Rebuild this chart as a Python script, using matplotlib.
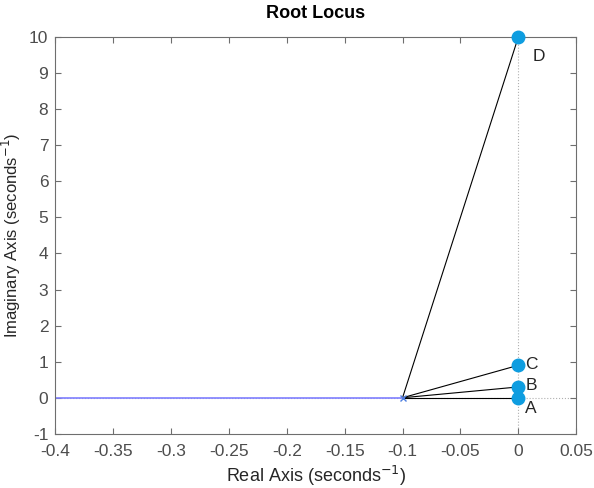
import matplotlib
matplotlib.use("Agg")
import matplotlib.pyplot as plt

plt.rcParams['font.family'] = ['Liberation Sans', 'DejaVu Sans']

# data
pole = (-0.1, 0.0)
branch_x = [-0.4, -0.1]
branch_y = [0.0, 0.0]
point_names = ['A', 'B', 'C', 'D']
point_x = [0.0, 0.0, 0.0, 0.0]
point_y = [0.0, 0.3, 0.9, 10.0]

gray = '#6e6e6e'
fig = plt.figure(figsize=(5.94, 4.88), dpi=100)
ax = fig.add_axes([0.093, 0.111, 0.877, 0.813])

ax.axhline(0, color='#b0b0b0', lw=0.8, ls=':', zorder=1)
ax.axvline(0, color='#b0b0b0', lw=0.8, ls=':', zorder=1)

ax.plot(branch_x, branch_y, color='#7f7fff', lw=1.2, zorder=2)
for px, py in zip(point_x, point_y):
    ax.plot([pole[0], px], [pole[1], py], color='black', lw=0.8, zorder=3)
ax.plot(pole[0], pole[1], 'x', color='#4f7fe0', ms=5, mew=1, zorder=4)

ax.plot(point_x, point_y, 'o', color='#0e9de0', ms=9, zorder=5, clip_on=False)
label_pos = {'A': (0.006, -0.3), 'B': (0.006, 0.33), 'C': (0.006, 0.93), 'D': (0.012, 9.45)}
for name in point_names:
    lx, ly = label_pos[name]
    ax.text(lx, ly, name, fontsize=12.5, color='#262626', va='center', ha='left')

ax.set_xlim(-0.4, 0.05)
ax.set_ylim(-1, 10)
ax.set_xticks([-0.4, -0.35, -0.3, -0.25, -0.2, -0.15, -0.1, -0.05, 0, 0.05])
ax.set_xticklabels(['-0.4', '-0.35', '-0.3', '-0.25', '-0.2', '-0.15', '-0.1', '-0.05', '0', '0.05'])
ax.set_yticks(range(-1, 11))
ax.set_yticklabels([str(v) for v in range(-1, 11)])

ax.tick_params(direction='in', top=True, right=True, colors=gray,
               labelcolor='#4d4d4d', labelsize=12.5, length=4)
ax.tick_params(axis='x', pad=7)
ax.tick_params(axis='y', pad=5)
for s in ax.spines.values():
    s.set_color(gray)
    s.set_linewidth(0.8)

ax.set_xlabel('Real Axis (seconds$^{-1}$)', fontsize=13, color='#262626', labelpad=4)
ax.set_ylabel('Imaginary Axis (seconds$^{-1}$)', fontsize=12, color='#262626', labelpad=4)
ax.set_title('Root Locus', fontsize=13, fontweight='bold', color='black', pad=14)

fig.savefig('out.png', dpi=100)
